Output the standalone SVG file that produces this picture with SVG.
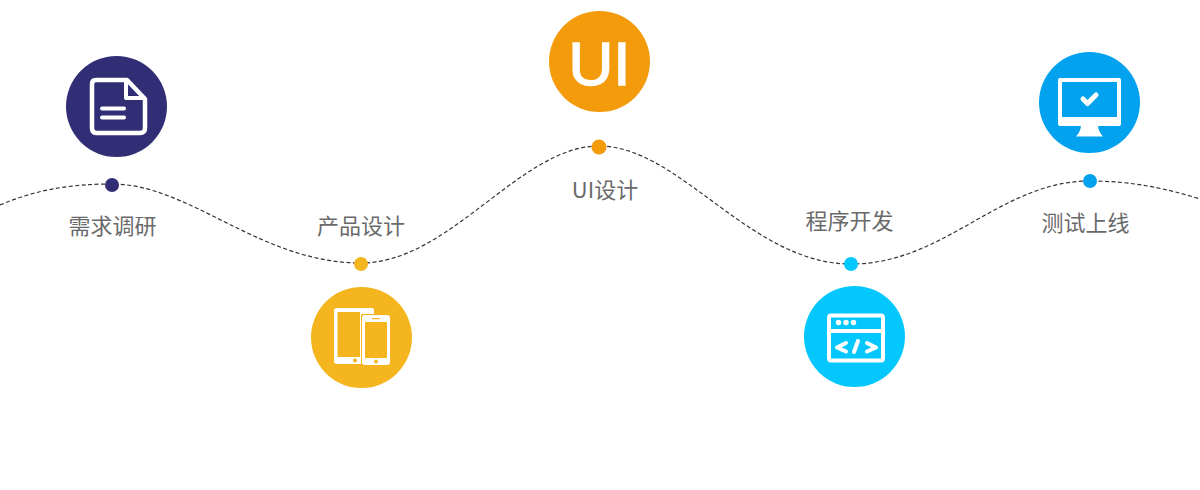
<svg xmlns="http://www.w3.org/2000/svg" width="1200" height="490" viewBox="0 0 1200 490">
<style>
.lbl{font-family:"Noto Sans CJK SC","Liberation Sans",sans-serif;font-size:22px;fill:#6a6a6a;text-anchor:middle}
.curve{fill:none;stroke:#333;stroke-width:1.200;stroke-dasharray:4 2.500}
.ic{fill:none;stroke:#fff;stroke-linejoin:round;stroke-linecap:round}
.w{fill:#fff}
</style>
<rect width="1200" height="490" fill="#fff"/>
<g id="connectors">
<path class="curve" d="M0 205C35 190 70 184 112 184C190 184 260 263 361 263C450 263 520 146 599 146C680 146 750 264 851 264C945 264 1000 181 1090 181C1130 181 1165 188 1200 199"/>
</g>
<g id="node-research">
<circle cx="116.500" cy="106.500" r="50.500" fill="#322e75"/>
<path class="ic" stroke-width="4.500" d="M96 80H127L145 99V128Q145 133 140 133H96Q92 133 92 128V84Q92 80 96 80Z"/>
<path class="ic" stroke-width="4" d="M126 81V98H144"/>
<path class="ic" stroke-width="4" stroke-linecap="butt" d="M102 108.500H124M102 117.500H124"/>
<circle cx="112" cy="185" r="7" fill="#322e75"/>
<text class="lbl" x="112.500" y="234">需求调研</text>
</g>
<g id="node-product">
<circle cx="361.500" cy="337.500" r="50.500" fill="#f5b51e"/>
<path class="w" fill-rule="evenodd" d="M337 308H372Q374 308 374 310V314H362Q361 314 361 316V364H337Q334 364 334 361V311Q334 308 337 308ZM337.500 312V357H360V312Z"/>
<path class="w" fill-rule="evenodd" d="M365 315H387Q390 315 390 318V362Q390 365 387 365H365Q362 365 362 362V318Q362 315 365 315ZM365 322V358H387V322Z"/>
<circle cx="355" cy="360.500" r="2" fill="#f5b51e"/>
<circle cx="376" cy="361.500" r="2" fill="#f5b51e"/>
<rect x="372" y="318" width="8" height="1.200" fill="#f5b51e"/>
<circle cx="361" cy="264" r="7" fill="#f5b51e"/>
<text class="lbl" x="361" y="234">产品设计</text>
</g>
<g id="node-ui">
<circle cx="599.500" cy="61.500" r="50.500" fill="#f49b0c"/>
<text x="599.500" y="84.500" font-family="Liberation Sans, Arial, sans-serif" font-size="62" fill="#fff" stroke="#fff" stroke-width="1.500" text-anchor="middle">UI</text>
<circle cx="599" cy="147" r="7.500" fill="#f49b0c"/>
<text class="lbl" x="605" y="198">UI设计</text>
</g>
<g id="node-dev">
<circle cx="854.500" cy="336.500" r="50.500" fill="#04c7fd"/>
<rect class="ic" stroke-width="4" x="829" y="315.500" width="54" height="45" rx="2"/>
<path class="ic" stroke-width="4" d="M846 343L837 347.500L846 351.500M867 343L876 347.500L867 351.500M858 341L854 352M829 331H883"/>
<circle cx="838.500" cy="322.500" r="2.700" class="w"/>
<circle cx="846" cy="322.500" r="2.700" class="w"/>
<circle cx="853.500" cy="322.500" r="2.700" class="w"/>
<circle cx="851" cy="264" r="7" fill="#04c7fd"/>
<text class="lbl" x="849.500" y="229">程序开发</text>
</g>
<g id="node-test">
<circle cx="1089.500" cy="102.500" r="50.500" fill="#02a2ee"/>
<path class="w" fill-rule="evenodd" d="M1060 78H1119Q1121 78 1121 80V124Q1121 126 1119 126H1060Q1058 126 1058 124V80Q1058 78 1060 78ZM1062 82V117H1117V82Z"/>
<path class="w" d="M1081 125H1098Q1098 131 1103 136.500H1076Q1081 131 1081 125Z"/>
<path fill="none" stroke="#fff" stroke-width="5" stroke-linecap="round" stroke-linejoin="round" d="M1083 99L1087.500 103.500L1096 95"/>
<circle cx="1090" cy="181" r="7" fill="#02a2ee"/>
<text class="lbl" x="1085.500" y="231">测试上线</text>
</g>
</svg>
